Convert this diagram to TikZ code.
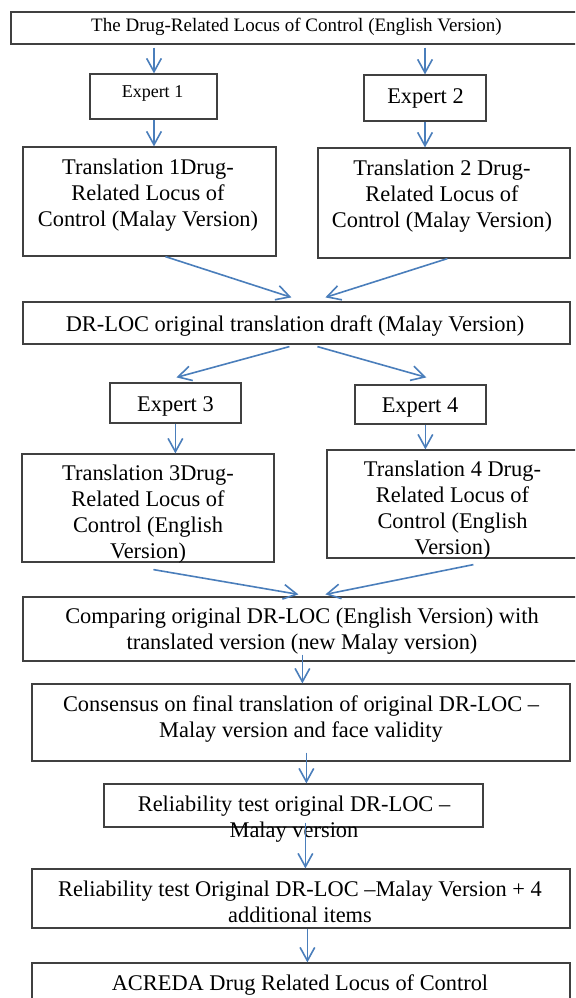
\documentclass[tikz,border=0pt]{standalone}
\usepackage{fontspec}
\setmainfont{Liberation Serif}
\usetikzlibrary{arrows.meta,fit,calc}
\definecolor{arrblue}{HTML}{4A7EBB}
\definecolor{boxgray}{HTML}{404040}
\begin{document}
\begin{tikzpicture}[x=0.75pt,y=-0.75pt,
  box/.style={draw=boxgray,line width=0.9pt,inner sep=0pt},
  arr/.style={draw=arrblue,line width=1.2pt,-{Straight Barb[length=10pt,width=11pt,line width=1.2pt]}},
  txt/.style={anchor=base,align=center,inner sep=0pt,font=\fontsize{16.8}{19.5}\selectfont}]
\clip (0,0) rectangle (575,998);
\fill[white] (0,0) rectangle (575,998);
% boxes
\node[box,fit={(11,12)(590,44)}] (title) {};
\node[box,fit={(90,74)(217,119)}] (e1) {};
\node[box,fit={(364,75)(486,121)}] (e2) {};
\node[box,fit={(23,147)(276,256)}] (t1) {};
\node[box,fit={(318,148)(570,258)}] (t2) {};
\node[box,fit={(23,302)(570,344)}] (draft) {};
\node[box,fit={(110,383)(241,423)}] (e3) {};
\node[box,fit={(355,385)(486,424)}] (e4) {};
\node[box,fit={(22,454)(274,562)}] (t3) {};
\node[box,fit={(327,450)(590,558)}] (t4) {};
\node[box,fit={(23,597)(590,661)}] (comp) {};
\node[box,fit={(32,684)(570,761)}] (cons) {};
\node[box,fit={(104,784)(483,827)}] (rel1) {};
\node[box,fit={(32,869)(570,928)}] (rel2) {};
\node[box,fit={(32,963)(570,1010)}] (acreda) {};
% texts (anchor base = baseline of last line)
\node[txt,font=\fontsize{14.25}{17}\selectfont] (titletxt) at (296.5,32) {The Drug-Related Locus of Control (English Version)};
\node[txt,font=\fontsize{13.5}{16}\selectfont] (e1txt) at (152.5,98) {Expert 1};
\node[txt] (e2txt) at (425.5,104) {Expert 2};
\node[txt] (t1txt) at (148,227) {Translation 1Drug-\\Related Locus of\\Control (Malay Version)};
\node[txt] (t2txt) at (442,228) {Translation 2 Drug-\\Related Locus of\\Control (Malay Version)};
\node[txt] (drafttxt) at (295,331) {DR-LOC original translation draft (Malay Version)};
\node[txt] (e3txt) at (175.5,411) {Expert 3};
\node[txt] (e4txt) at (420,412) {Expert 4};
\node[txt] (t3txt) at (148,558) {Translation 3Drug-\\Related Locus of\\Control (English\\Version)};
\node[txt] (t4txt) at (452.5,554) {Translation 4 Drug-\\Related Locus of\\Control (English\\Version)};
\node[txt] (comptxt) at (302,649) {Comparing original DR-LOC (English Version) with\\translated version (new Malay version)};
\node[txt] (constxt) at (301,737) {Consensus on final translation of original DR-LOC --\\Malay version and face validity};
\node[txt] (rel1txt) at (294,837) {Reliability test original DR-LOC --\\Malay version};
\node[txt] (rel2txt) at (300,922) {Reliability test Original DR-LOC --Malay Version + 4\\additional items};
\node[txt] (acredatxt) at (300,990) {ACREDA Drug Related Locus of Control};
% arrows
\draw[arr] ($(title.south -| e1.north)+(0.5,3)$) -- ($(e1.north)+(0.5,0)$);
\draw[arr] ($(title.south -| e2.north)+(0,3)$) -- (e2.north);
\draw[arr] ($(e1.south)+(0.5,0)$) -- ($(e1.south |- t1.north)+(0.5,0)$);
\draw[arr] (e2.south) -- (e2.south |- t2.north);
\draw[arr] ($(t1.south west)+(143,0)$) -- ($(draft.north west)+(269,-4)$);
\draw[arr] ($(t2.south west)+(130,0)$) -- ($(draft.north west)+(303,-4)$);
\draw[arr] ($(draft.south west)+(267,2)$) -- ($(e3.north west)+(67,-5)$);
\draw[arr] ($(draft.south west)+(295,2)$) -- ($(e4.north west)+(72,-7)$);
\draw[arr] ($(e3.south west)+(66,0)$) -- ($(e3.south west |- t3.north)+(66,0)$);
\draw[arr] ($(e4.south west)+(71,0)$) -- ($(e4.south west |- t4.north)+(71,0)$);
\draw[arr] ($(t3.south west)+(132,7)$) -- ($(comp.north west)+(276,-2)$);
\draw[arr] ($(t4.south west)+(147,6)$) -- ($(comp.north west)+(303,-2)$);
\draw[arr] ($(comp.south west)+(280,-7)$) -- ($(comp.south west |- cons.north)+(280,0)$);
\draw[arr] ($(cons.south west)+(275,-9)$) -- ($(cons.south west |- rel1.north)+(275,0)$);
\draw[arr] ($(rel1.south west)+(202,-5)$) -- ($(rel1.south west |- rel2.north)+(202,0)$);
\draw[arr] ($(rel2.south west)+(276,0)$) -- ($(rel2.south west |- acreda.north)+(276,0)$);
\end{tikzpicture}
\end{document}
